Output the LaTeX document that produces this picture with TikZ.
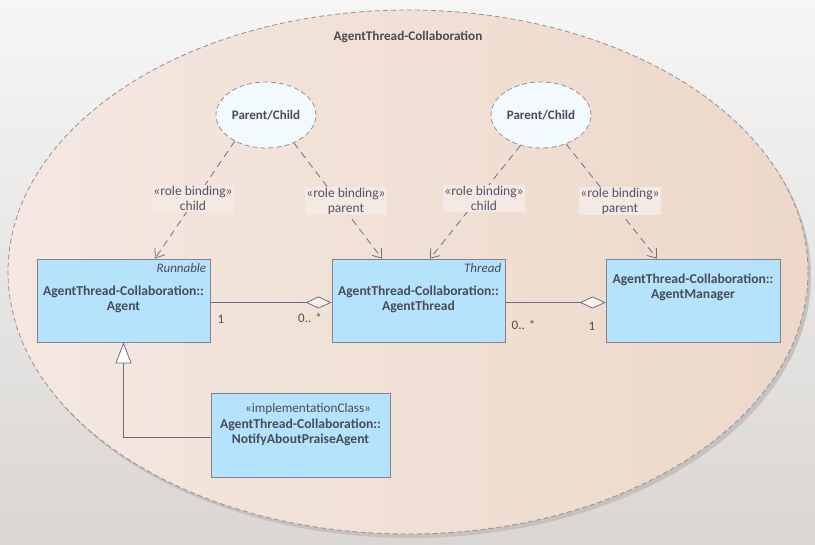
\documentclass[tikz,border=0pt]{standalone}
\usepackage{fontspec}
\setmainfont{Carlito}
\usetikzlibrary{shapes.geometric,arrows.meta}

\definecolor{bgtop}{HTML}{F6F6F6}
\definecolor{bgbot}{HTML}{D9D6D3}
\definecolor{ellL}{HTML}{F4E8E1}
\definecolor{ellR}{HTML}{EDD8CA}
\definecolor{elldraw}{HTML}{9E8E8E}
\definecolor{shadowc}{HTML}{C4C1BE}
\definecolor{boxfill}{HTML}{B5E3FD}
\definecolor{boxdraw}{HTML}{8C7F86}
\definecolor{txt}{HTML}{4A4A58}
\definecolor{conn}{HTML}{6B7088}
\definecolor{pcfill}{HTML}{F2FAFD}
\definecolor{lbl}{HTML}{56506C}
\definecolor{lblbg}{HTML}{F5EAE3}
\definecolor{mult}{HTML}{5E4C42}
\definecolor{diamfill}{HTML}{FBF2F0}

\begin{document}
\begin{tikzpicture}[x=1pt,y=-1pt,
  cls/.style={draw=boxdraw, fill=boxfill, line width=0.8pt, minimum width=173pt, minimum height=83pt, inner sep=0pt},
  clsname/.style={font=\fontsize{13.6}{15}\selectfont\bfseries, text=txt, align=center, inner sep=0pt},
  stereo/.style={font=\fontsize{13.2}{15}\selectfont, text=txt, inner sep=0pt},
  abstr/.style={font=\fontsize{13}{15}\selectfont\itshape, text=txt, inner sep=0pt},
  role/.style={ellipse, draw=elldraw, dashed, dash pattern=on 5pt off 3pt, fill=pcfill, line width=0.8pt, minimum width=100pt, minimum height=66pt, inner sep=0pt, font=\fontsize{13}{15}\selectfont\bfseries, text=txt},
  rolebind/.style={draw=conn, line width=0.8pt, dash pattern=on 7pt off 5pt, -{Straight Barb[length=8pt,width=12pt]}},
  rblabel/.style={font=\fontsize{13.5}{15}\selectfont, text=lbl, align=center, fill=lblbg, inner sep=1pt},
  assoc/.style={draw=conn, line width=0.8pt, -{Diamond[length=26pt,width=12pt,fill=diamfill]}},
  gen/.style={draw=conn, line width=0.8pt, -{Triangle[length=21pt,width=16pt,fill=white]}},
  multl/.style={font=\fontsize{13}{15}\selectfont, text=mult, inner sep=0pt}
]
\useasboundingbox (0,0) rectangle (815,545);
\shade[top color=bgtop, bottom color=bgbot] (0,0) rectangle (815,545);

% collaboration ellipse
\fill[shadowc] (411,276) ellipse [x radius=400, y radius=262];
\shade[left color=ellL, right color=ellR] (408,272) ellipse [x radius=400, y radius=262];
\draw[elldraw, line width=0.8pt, dash pattern=on 5pt off 3pt] (408,272) ellipse [x radius=400, y radius=262];
\node[font=\fontsize{13.2}{15}\selectfont\bfseries, text=txt] (title) at (408,37) {AgentThread-Collaboration};

% roles
\node[role] (pc1) at (266,115) {Parent/Child};
\node[role] (pc2) at (541,115) {Parent/Child};

% classes
\node[cls] (agent) at (123.5,300.5) {};
\node[cls] (thread) at (418.5,300.5) {};
\node[cls, minimum width=174pt] (mgr) at (693,300.5) {};
\node[cls, minimum width=179pt, minimum height=84pt] (notify) at (300.5,435) {};

\node[abstr, anchor=north east] (agentabs) at ([xshift=-4pt,yshift=-5pt]agent.north east) {Runnable};
\node[clsname] (agentname) at (123.5,299.5) {AgentThread-Collaboration::\\Agent};
\node[abstr, anchor=north east] (threadabs) at ([xshift=-4pt,yshift=-5pt]thread.north east) {Thread};
\node[clsname] (threadname) at (418.5,299.5) {AgentThread-Collaboration::\\AgentThread};
\node[clsname] (mgrname) at (693,287.5) {AgentThread-Collaboration::\\AgentManager};
\node[stereo] (notifyst) at (308,409) {«implementationClass»};
\node[clsname] (notifyname) at (300.5,432.5) {AgentThread-Collaboration::\\NotifyAboutPraiseAgent};

% role bindings
\draw[rolebind] (pc1.220) -- ([xshift=31.5pt]agent.north);
\draw[rolebind] (pc1.315) -- ([xshift=-36.5pt]thread.north);
\draw[rolebind] (pc2.236) -- ([xshift=11.5pt]thread.north);
\draw[rolebind] (pc2.311) -- ([xshift=-36pt]mgr.north);

\node[rblabel] (l1) at (193,198.5) {«role binding»\\child};
\node[rblabel] (l2) at (346,201) {«role binding»\\parent};
\node[rblabel] (l3) at (484,198.5) {«role binding»\\child};
\node[rblabel] (l4) at (620,201) {«role binding»\\parent};

% associations
\draw[assoc] ([yshift=-2pt]agent.east) -- ([yshift=-2pt]thread.west);
\draw[assoc] ([yshift=-2pt]thread.east) -- ([yshift=-2pt]mgr.west);
\node[multl] (m1) at (221,319) {1};
\node[multl] (m2) at (310,318) {0.. *};
\node[multl] (m3) at (523.5,325) {0.. *};
\node[multl] (m4) at (592,326) {1};

% generalization
\draw[gen] ([yshift=-2pt]notify.west) -| (agent.south);
\end{tikzpicture}
\end{document}
